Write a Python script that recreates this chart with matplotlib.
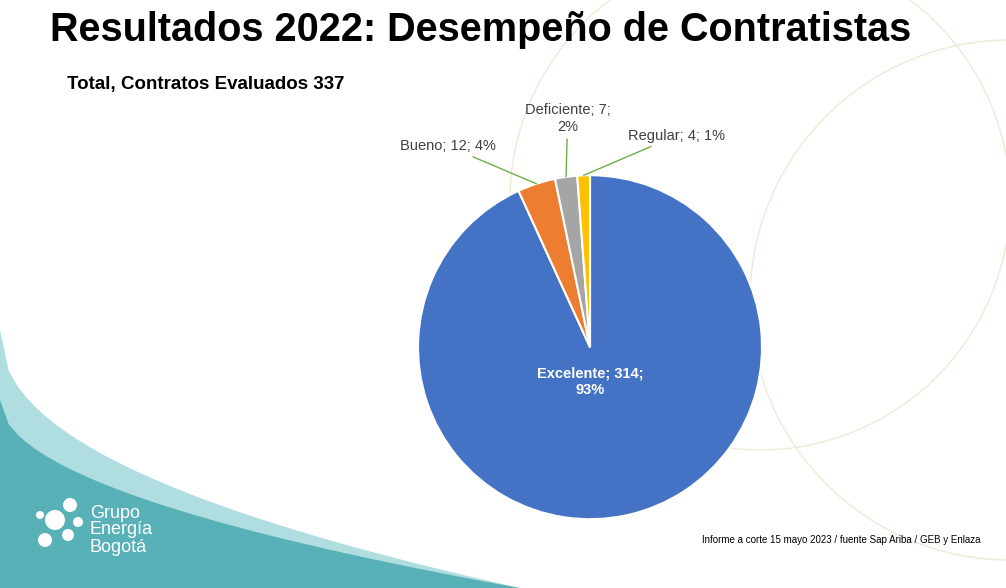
import matplotlib.pyplot as plt
import numpy as np
from matplotlib.patches import Circle, Polygon

plt.rcParams['font.family'] = 'Liberation Sans'

categories = ['Excelente', 'Bueno', 'Deficiente', 'Regular']
values = [314, 12, 7, 4]
percents = ['93%', '4%', '2%', '1%']
colors = ['#4472C4', '#ED7D31', '#A5A5A5', '#FFC000']

fig = plt.figure(figsize=(10.06, 5.88), dpi=100)
fig.patch.set_facecolor('white')

# background decoration
bg = fig.add_axes([0, 0, 1, 1])
bg.set_xlim(0, 1006)
bg.set_ylim(588, 0)
bg.axis('off')
xs = np.linspace(0, 520, 60)
ys = 330 + 258 * (xs / 520) ** 0.45
pts = [(0, 588)] + [(0, 330)] + list(zip(xs, ys)) + [(520, 588)]
bg.add_patch(Polygon(pts, closed=True, facecolor='#8FD0D3', edgecolor='none', alpha=0.7))
xs2 = np.linspace(0, 520, 60)
ys2 = 400 + 188 * (xs2 / 520) ** 0.5
pts2 = [(0, 588)] + [(0, 400)] + list(zip(xs2, ys2)) + [(520, 588)]
bg.add_patch(Polygon(pts2, closed=True, facecolor='#3AA3AA', edgecolor='none', alpha=0.75))
for c, r in [((760, 200), 250), ((1010, 300), 260)]:
    bg.add_patch(Circle(c, r, fill=False, edgecolor='#EFE9D6', lw=1))
bg.text(90, 530, 'Grupo\nEnergía\nBogotá', color='white', fontsize=13,
        va='center', ha='left', linespacing=1.0)
for (cx, cy, rr) in [(55, 520, 10), (70, 505, 7), (45, 540, 7), (68, 535, 6), (78, 522, 5), (40, 515, 4)]:
    bg.add_patch(Circle((cx, cy), rr, facecolor='white', edgecolor='none'))

fig.text(50 / 1006, 1 - 30 / 588, 'Resultados 2022: Desempeño de Contratistas',
         fontsize=28.5, fontweight='bold', va='center', ha='left')
fig.text(67 / 1006, 1 - 85 / 588, 'Total, Contratos Evaluados 337',
         fontsize=13.5, fontweight='bold', va='center', ha='left')
fig.text(980 / 1006, 1 - 540 / 588,
         'Informe a corte 15 mayo 2023 / fuente Sap Ariba / GEB y Enlaza',
         fontsize=7, va='center', ha='right')

ax = fig.add_axes([0.4155, 0.117, 0.342, 0.585])
wedges, _ = ax.pie(values, colors=colors, startangle=90, counterclock=False,
                   wedgeprops=dict(edgecolor='white', linewidth=1.5))
ax.set_xlim(-1, 1)
ax.set_ylim(-1, 1)
ax.set_aspect('equal')

ax.text(0, -0.2, f'{categories[0]}; {values[0]};\n{percents[0]}', color='white',
        fontsize=10.5, fontweight='bold', ha='center', va='center')

# outside labels: (text pos, ha)
label_pos = [None, (-0.55, 1.17), (-0.13, 1.33), (0.22, 1.23)]
label_text = [None,
              f'{categories[1]}; {values[1]}; {percents[1]}',
              f'{categories[2]}; {values[2]};\n{percents[2]}',
              f'{categories[3]}; {values[3]}; {percents[3]}']
for i in range(1, 4):
    w = wedges[i]
    ang = np.deg2rad((w.theta1 + w.theta2) / 2)
    px, py = np.cos(ang), np.sin(ang)
    tx, ty = label_pos[i]
    ha = 'right' if i == 1 else ('center' if i == 2 else 'left')
    ax.annotate(label_text[i], xy=(px, py), xytext=(tx, ty), ha=ha, va='center',
                fontsize=10.5, color='#404040', annotation_clip=False,
                arrowprops=dict(arrowstyle='-', color='#70AD47', lw=1,
                                shrinkA=2, shrinkB=0))

fig.savefig('out.png', dpi=100)
